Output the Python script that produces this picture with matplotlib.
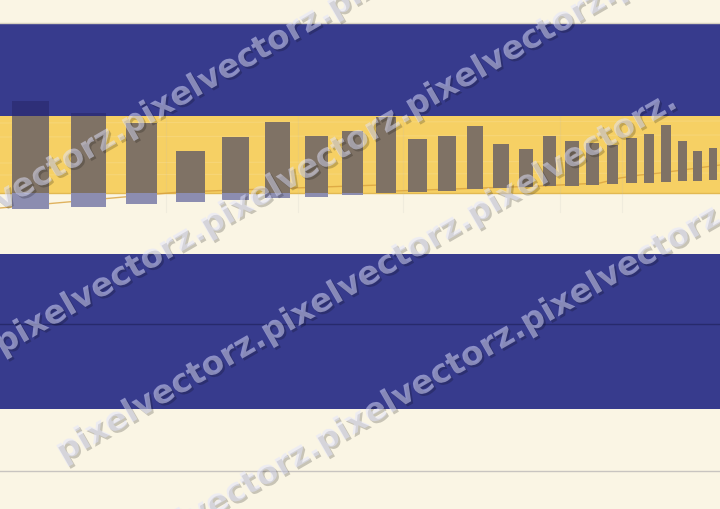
"""
Striped banner with perspective bars and a repeated watermark.
"""
import matplotlib
matplotlib.use("Agg")
import matplotlib.pyplot as plt
import matplotlib.patheffects as pe
import numpy as np

# Bar values (top / bottom of each bar, pixel rows)
bar_top = [101, 113, 123, 151, 137, 122, 136, 131, 117, 139, 136, 126,
           144, 149, 136, 141, 143, 145, 138, 134, 125, 141, 151, 148]
bar_bottom = [209, 207, 204, 202, 200, 198, 197, 195, 193, 192, 191, 189,
              188, 187, 186, 186, 185, 184, 183, 183, 182, 181, 181, 180]

# Bar layout (perspective: bars get narrower to the right)
bar_left = [12, 71, 126, 176, 222, 265, 305, 342, 376, 408, 438, 467,
            493, 519, 543, 565, 586, 607, 626, 644, 661, 678, 693, 709]
bar_right = [49, 106, 157, 205, 249, 290, 328, 363, 396, 427, 456, 483,
             509, 533, 556, 579, 599, 618, 637, 654, 671, 687, 702, 717]

# Faint trend line across the bars
trend_x = [0, 180, 380, 395, 540, 600, 620, 640, 660, 720]
trend_y = [208, 192, 185, 191, 186, 183, 178, 175, 173, 165]

# Watermark rows: text and start point of each line
wm_word = "pixelvectorz."
wm_reps = [5, 5, 3, 5]
wm_x = [-82, -3, 58, 112]
wm_y = [247, 347, 454, 563]

# Colours
c_cream  = "#FAF5E4"
c_blue   = "#373B8D"
c_yellow = "#F6D064"
c_bar    = "#7F7265"
c_bar_lo = "#8C8DB0"
c_bar_hi = "#2E2F78"

# Bands (pixel rows)
blue1 = (22.5, 115.5)
yell = (115.5, 192.5)
blue2 = (253.5, 408.5)

fig = plt.figure(figsize=(7.2, 5.09), dpi=100)
ax = fig.add_axes([0, 0, 1, 1])
ax.set_xlim(0, 720)
ax.set_ylim(509, 0)
ax.axis("off")
fig.patch.set_facecolor(c_cream)

ax.axhspan(*blue1, color=c_blue, lw=0)
ax.axhspan(*yell, color=c_yellow, lw=0)
ax.axhspan(*blue2, color=c_blue, lw=0)
ax.axhline(22.5, color="#D6D0C0", lw=1)
ax.axhline(192.5, color="#E2B952", lw=1)
ax.axhline(323.5, color="#272A6C", lw=1)
ax.axhline(470.5, color="#C8C4C0", lw=1)

# faint grid inside the yellow band
for gy in [123, 137, 163, 175]:
    ax.plot([0, 720], [gy, gy - 2], color="white", alpha=0.12, lw=0.8)
for gx in [166, 298, 403, 560, 622]:
    ax.plot([gx, gx], [116, 212], color="#BBBBBB", alpha=0.15, lw=0.8)

ax.plot(trend_x, trend_y, color="#D9A23E", lw=1, alpha=0.8)

left = np.array(bar_left)
width = np.array(bar_right) - left
top = np.array(bar_top, dtype=float)
bot = np.array(bar_bottom, dtype=float)

# split each bar by the band it sits on
mid_top = np.maximum(top, yell[0])
mid_bot = np.minimum(bot, yell[1])
ax.bar(left, mid_bot - mid_top, bottom=mid_top, width=width,
       align="edge", color=c_bar, lw=0, zorder=3)

hi = top < blue1[1]
ax.bar(left[hi], blue1[1] - top[hi], bottom=top[hi], width=width[hi],
       align="edge", color=c_bar_hi, lw=0, zorder=3)

lo = bot > yell[1]
ax.bar(left[lo], bot[lo] - yell[1], bottom=yell[1], width=width[lo],
       align="edge", color=c_bar_lo, lw=0, zorder=3)

# watermark
for x, y, n in zip(wm_x, wm_y, wm_reps):
    ax.text(x, y, wm_word * n, rotation=30, rotation_mode="anchor",
            ha="left", va="center", fontsize=23.5, fontweight="bold",
            color="#E2E4FF", alpha=0.5, zorder=5, clip_on=True,
            path_effects=[pe.withSimplePatchShadow(offset=(1.5, -1.5),
                                                   shadow_rgbFace="black",
                                                   alpha=0.2)])

fig.savefig("out.png", dpi=100, facecolor=c_cream)
plt.close(fig)
